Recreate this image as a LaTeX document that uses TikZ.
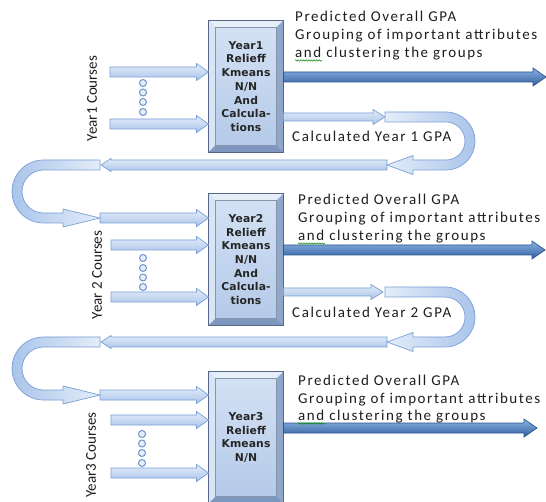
\documentclass[tikz,border=0pt]{standalone}
\usepackage{fontspec}
\setmainfont{Carlito}
\newfontfamily\boxfont{DejaVu Sans}
\usetikzlibrary{calc,decorations.pathmorphing}

\definecolor{arrowedge}{HTML}{7A9FD6}
\definecolor{arrowtop}{HTML}{E4EDF9}
\definecolor{arrowbot}{HTML}{AAC4EA}
\definecolor{outtop}{HTML}{8DB3E2}
\definecolor{outmid}{HTML}{5A8AD0}
\definecolor{outbot}{HTML}{2F5E9E}
\definecolor{outedge}{HTML}{2B568F}
\definecolor{boxedge}{HTML}{55688A}
\definecolor{facetop}{HTML}{D4E2F4}
\definecolor{facebot}{HTML}{B3C9E8}
\definecolor{bevtop}{HTML}{E6EEF8}
\definecolor{bevleft}{HTML}{D9E5F4}
\definecolor{bevright}{HTML}{8FA7CA}
\definecolor{bevbot}{HTML}{7E97BE}
\definecolor{labeltext}{HTML}{1E1E1E}
\definecolor{dotedge}{HTML}{6F95CC}

\tikzset{
  inarrow/.style={draw=arrowedge, line width=0.7pt, top color=arrowtop, bottom color=arrowbot,
    /utils/exec={\def\bas{5}\def\baH{8.5}\def\baL{12}}},
  calcarrow/.style={draw=arrowedge, line width=0.7pt, top color=arrowtop, bottom color=arrowbot,
    /utils/exec={\def\bas{4}\def\baH{7.5}\def\baL{12}}},
  backarrow/.style={draw=arrowedge, line width=0.7pt, top color=arrowtop, bottom color=arrowbot,
    /utils/exec={\def\bas{5}\def\baH{6.5}\def\baL{10}}},
  outarrow/.style={draw=outedge, line width=0.7pt, top color=outtop, middle color=outmid, bottom color=outbot,
    /utils/exec={\def\bas{5}\def\baH{9}\def\baL{13}}},
  uturn/.style={draw=arrowedge, line width=0.7pt, left color=arrowtop, right color=arrowbot},
  uturnleft/.style={draw=arrowedge, line width=0.7pt, left color=arrowbot, right color=arrowtop},
  procbox/.style={draw=boxedge, line width=1pt, top color=facetop, bottom color=facebot,
    minimum width=74pt, minimum height=131pt, inner sep=0pt,
    font=\boxfont\bfseries\fontsize{10.8}{13.7}\selectfont\addfontfeatures{LetterSpace=1},
    align=center, text=black!85},
  note/.style={font=\fontsize{15}{17}\selectfont\addfontfeatures{LetterSpace=10.5}, text=labeltext, anchor=base west, inner sep=0pt},
  course/.style={font=\fontsize{15}{17}\selectfont, text=labeltext, rotate=90, inner sep=0pt},
  dot/.style={circle, draw=dotedge, fill=arrowtop, line width=1pt, minimum size=7pt, inner sep=0pt},
  spell/.style={draw=green!55!black, line width=0.5pt, decorate,
    decoration={snake, segment length=2.6pt, amplitude=0.7pt}}
}

% straight block arrow from #2 to #3 (same height), tip at #3
\newcommand\blockarrow[3]{%
  \path[#1] let \p1=(#2), \p2=(#3), \p3=($(#3)!\baL pt!(#2)$) in
    (\x1,{\y1+\bas pt}) -- (\x3,{\y1+\bas pt}) -- (\x3,{\y1+\baH pt}) -- (\x2,\y1)
    -- (\x3,{\y1-\baH pt}) -- (\x3,{\y1-\bas pt}) -- (\x1,{\y1-\bas pt}) -- cycle;}

% bevelled frame drawn over a procbox node
\newcommand\bevelframe[1]{%
  \fill[bevtop] (#1.north west) -- (#1.north east) -- ($(#1.north east)+(-7,7)$) -- ($(#1.north west)+(7,7)$) -- cycle;
  \fill[bevleft] (#1.north west) -- ($(#1.north west)+(7,7)$) -- ($(#1.south west)+(7,-7)$) -- (#1.south west) -- cycle;
  \fill[bevright] (#1.north east) -- ($(#1.north east)+(-7,7)$) -- ($(#1.south east)+(-7,-7)$) -- (#1.south east) -- cycle;
  \fill[bevbot] (#1.south west) -- ($(#1.south west)+(7,-7)$) -- ($(#1.south east)+(-7,-7)$) -- (#1.south east) -- cycle;
  \draw[boxedge!70, line width=0.4pt] ($(#1.north west)+(7,7)$) rectangle ($(#1.south east)+(-7,-7)$);
  \draw[boxedge, line width=1pt] (#1.north west) rectangle (#1.south east);}

\begin{document}
\begin{tikzpicture}[x=1pt, y=-1pt]
\useasboundingbox[fill=white] (0,0) rectangle (546,502);

% processing blocks
\node[procbox] (box1) at (246,86.5) {Year1\\Relieff\\Kmeans\\N/N\\And\\Calcula-\\tions};
\node[procbox] (box2) at (246,259.5) {Year2\\Relieff\\Kmeans\\N/N\\And\\Calcula-\\tions};
\node[procbox] (box3) at (246,437.5) {Year3\\Relieff\\Kmeans\\N/N};
\bevelframe{box1}
\bevelframe{box2}
\bevelframe{box3}

% anchor points of the arrows
\coordinate (in1a) at (110,72);   \coordinate (in1b) at (110,124);
\coordinate (in2a) at (111,245);  \coordinate (in2b) at (111,297);
\coordinate (in3a) at (111,420);  \coordinate (in3b) at (111,473);
\coordinate (u1end) at (100,218); \coordinate (u2end) at (100,395);
\coordinate (out1) at (546,77);   \coordinate (out2) at (545,250);  \coordinate (out3) at (537,428);
\coordinate (calc1) at (385,117); \coordinate (calc2) at (383,292);
\coordinate (ret1s) at (387,165); \coordinate (ret1e) at (101,165);
\coordinate (ret2s) at (387,342); \coordinate (ret2e) at (101,342);

% course inputs
\blockarrow{inarrow}{in1a}{box1.west |- in1a}
\blockarrow{inarrow}{in1b}{box1.west |- in1b}
\blockarrow{inarrow}{in2a}{box2.west |- in2a}
\blockarrow{inarrow}{in2b}{box2.west |- in2b}
\blockarrow{inarrow}{in3a}{box3.west |- in3a}
\blockarrow{inarrow}{in3b}{box3.west |- in3b}
\blockarrow{inarrow}{u1end}{box2.west |- u1end}
\blockarrow{inarrow}{u2end}{box3.west |- u2end}

\foreach \y [count=\i] in {83,92.5,102,112}  \node[dot] (d1\i) at (143,\y) {};
\foreach \y [count=\i] in {258,268,277.5,287} \node[dot] (d2\i) at (143,\y) {};
\foreach \y [count=\i] in {434,443.5,453,463} \node[dot] (d3\i) at (142,\y) {};

\node[course] (c1) at (92,98.5) {Year1 Courses};
\node[course] (c2) at (97,275) {Year 2 Courses};
\node[course] (c3) at (91,455) {Year3 Courses};

% predicted outputs
\blockarrow{outarrow}{box1.east |- out1}{out1}
\blockarrow{outarrow}{box2.east |- out2}{out2}
\blockarrow{outarrow}{box3.east |- out3}{out3}

% calculated GPA loops
\blockarrow{calcarrow}{box1.east |- calc1}{calc1}
\blockarrow{calcarrow}{box2.east |- calc2}{calc2}
\blockarrow{backarrow}{ret1s}{ret1e}
\blockarrow{backarrow}{ret2s}{ret2e}

\path[uturn] (385,112) -- (446,112) arc[start angle=90, end angle=-90, radius=29pt]
  -- (413,170) -- (413,174.5) -- (387,165) -- (413,155.5) -- (413,160) -- (446,160)
  arc[start angle=-90, end angle=90, radius=19pt] -- (385,122) -- cycle;
\path[uturn] (385,287) -- (445,287) arc[start angle=90, end angle=-90, radius=30pt]
  -- (413,347) -- (413,351.5) -- (387,342) -- (413,332.5) -- (413,337) -- (445,337)
  arc[start angle=-90, end angle=90, radius=20pt] -- (385,297) -- cycle;
\path[uturnleft] (100,160) -- (43.5,160) arc[start angle=90, end angle=270, radius=31.5pt]
  -- (63,223) -- (63,227) -- (u1end) -- (63,209) -- (63,213) -- (43.5,213)
  arc[start angle=270, end angle=90, radius=21.5pt] -- (100,170) -- cycle;
\path[uturnleft] (100,337) -- (43.5,337) arc[start angle=90, end angle=270, radius=31.5pt]
  -- (63,400) -- (63,404) -- (u2end) -- (63,386) -- (63,390) -- (43.5,390)
  arc[start angle=270, end angle=90, radius=21.5pt] -- (100,347) -- cycle;

% annotations
\node[note] (p1) at (295,22) {Predicted Overall GPA};
\node[note] (g1) at (295,40) {Grouping of important attributes};
\node[note] (a1) at (295,57.5) {and clustering the groups};
\node[note] (p2) at (298,205) {Predicted Overall GPA};
\node[note] (g2) at (298,223) {Grouping of important attributes};
\node[note] (a2) at (298,240.5) {and clustering the groups};
\node[note] (p3) at (298,385) {Predicted Overall GPA};
\node[note] (g3) at (298,403) {Grouping of important attributes};
\node[note] (a3) at (298,420.5) {and clustering the groups};
\node[note] (k1) at (292,142) {Calculated Year 1 GPA};
\node[note] (k2) at (292,318) {Calculated Year 2 GPA};

\draw[spell] (295,60.5) -- (322,60.5);
\draw[spell] (298,243.5) -- (325,243.5);
\draw[spell] (298,423.5) -- (325,423.5);
\end{tikzpicture}
\end{document}
